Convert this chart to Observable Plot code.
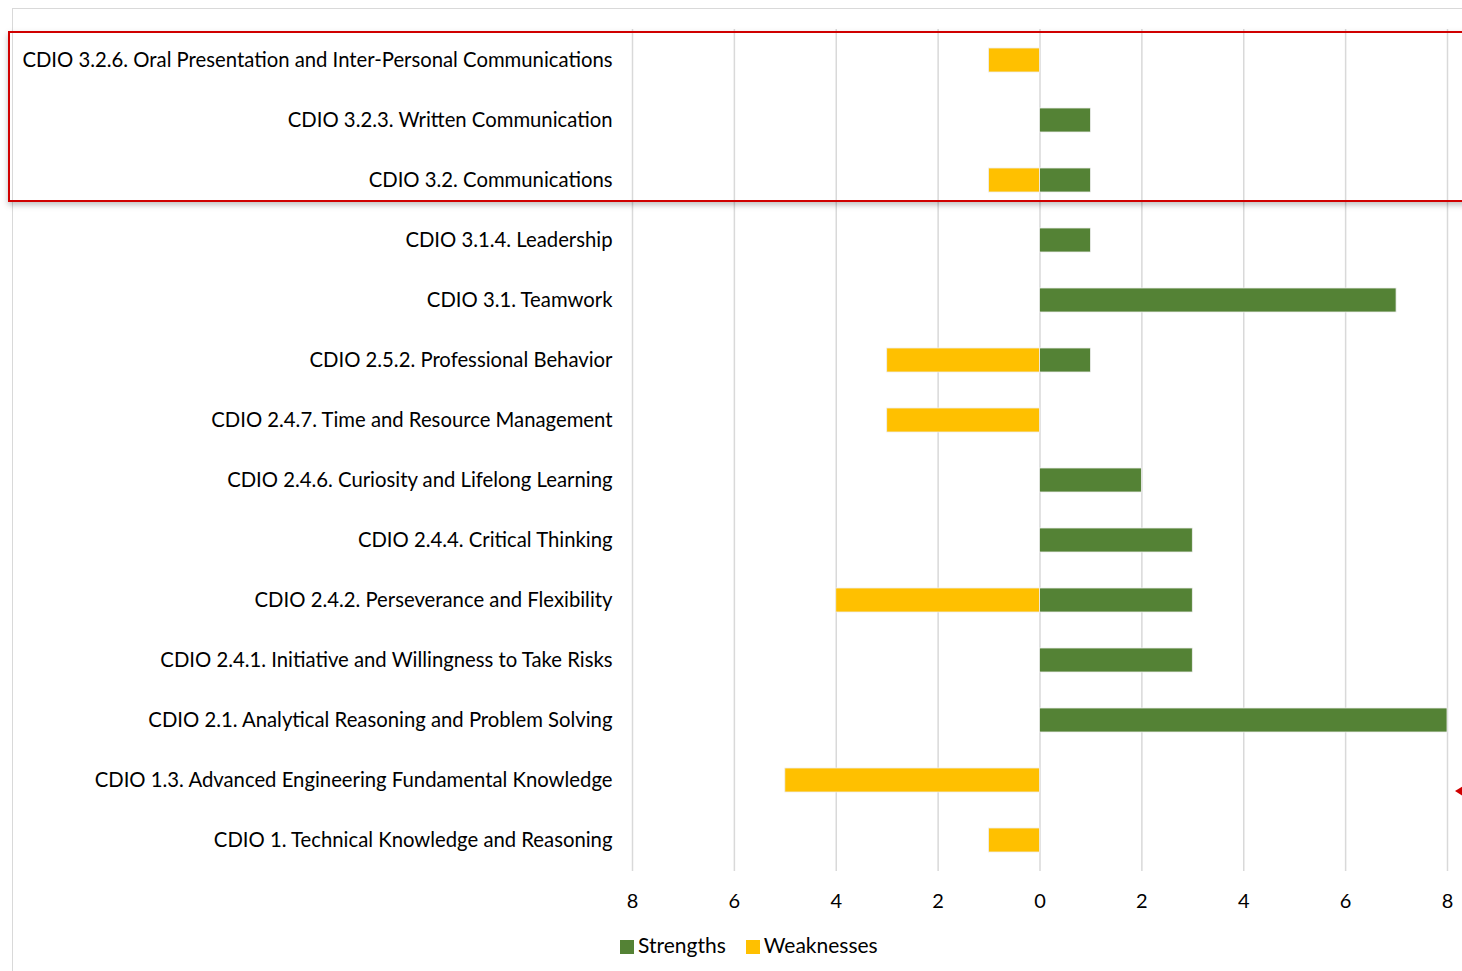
<!DOCTYPE html>
<html><head><meta charset="utf-8">
<script src="https://cdn.jsdelivr.net/npm/d3@7"></script>
<script src="https://cdn.jsdelivr.net/npm/@observablehq/plot@0.6"></script>
<style>
body{margin:0;background:#fff;font-family:Lato,"Open Sans",sans-serif;}
#wrap{position:relative;width:1462px;height:971px;overflow:hidden;}
#frame{position:absolute;left:12px;top:8px;width:1500px;height:1000px;border-left:1.5px solid #d9d9d9;border-top:1.5px solid #d9d9d9;}
#chart{position:absolute;left:0;top:0;}
#legend{position:absolute;top:932px;left:620px;font-size:21px;color:#000;display:flex;gap:20px;align-items:center;}
.sw{display:inline-block;width:14px;height:14px;margin-right:4px;vertical-align:-1px;}
#hl{position:absolute;left:8px;top:31px;width:1480px;height:167px;border:2px solid #d00000;box-shadow:0 3px 6px rgba(0,0,0,0.25);}
#arrow{position:absolute;left:1455px;top:786px;width:0;height:0;border-top:5px solid transparent;border-bottom:5px solid transparent;border-right:8px solid #d00000;}
</style></head>
<body><div id="wrap"><div id="frame"></div><div id="chart"></div>
<div id="legend"></div><div id="hl"></div><div id="arrow"></div></div>
<script>
const categories = [
 "CDIO 3.2.6. Oral Presentation and Inter-Personal Communications",
 "CDIO 3.2.3. Written Communication",
 "CDIO 3.2. Communications",
 "CDIO 3.1.4. Leadership",
 "CDIO 3.1. Teamwork",
 "CDIO 2.5.2. Professional Behavior",
 "CDIO 2.4.7. Time and Resource Management",
 "CDIO 2.4.6. Curiosity and Lifelong Learning",
 "CDIO 2.4.4. Critical Thinking",
 "CDIO 2.4.2. Perseverance and Flexibility",
 "CDIO 2.4.1. Initiative and Willingness to Take Risks",
 "CDIO 2.1. Analytical Reasoning and Problem Solving",
 "CDIO 1.3. Advanced Engineering Fundamental Knowledge",
 "CDIO 1. Technical Knowledge and Reasoning"
];
const strengths  = [0,1,1,1,7,1,0,2,3,3,3,8,0,0];
const weaknesses = [1,0,1,0,0,3,3,0,0,4,0,0,5,1];
const xTicks = [-8,-6,-4,-2,0,2,4,6,8];
const seriesNames = ["Strengths","Weaknesses"];
const seriesColors = ["#548235","#FFC000"];

const rows = [];
categories.forEach((c,i)=>{
  if (strengths[i]) rows.push({cat:c, series:"Strengths", v:strengths[i]});
  if (weaknesses[i]) rows.push({cat:c, series:"Weaknesses", v:-weaknesses[i]});
});

const chart = Plot.plot({
  width:1462, height:925,
  marginLeft:632, marginRight:15, marginTop:29, marginBottom:54,
  style:{fontFamily:"Lato, 'Open Sans', sans-serif", fontSize:"20.3px", color:"#000", background:"transparent"},
  x:{domain:[-8,8], ticks:xTicks, tickFormat:d=>Math.abs(d), label:null},
  y:{domain:categories, paddingInner:0.6, paddingOuter:0.3, label:null},
  color:{domain:seriesNames, range:seriesColors},
  marks:[
    Plot.ruleX(xTicks,{stroke:"#d9d9d9", strokeWidth:1.5, strokeOpacity:1}),
    Plot.barX(rows,{y:"cat", x:"v", fill:"series", stroke:"#eeeeee", strokeWidth:0.8}),
    Plot.axisX({ticks:xTicks, tickFormat:d=>Math.abs(d), tickSize:0, tickPadding:22, label:null, fontSize:20}),
    Plot.axisY({tickSize:0, tickPadding:20, label:null, fontSize:20.3})
  ]
});
document.getElementById("chart").appendChild(chart);

const lg = document.getElementById("legend");
seriesNames.forEach((n,i)=>{
  const s=document.createElement("span");
  s.innerHTML=`<span class="sw" style="background:${seriesColors[i]}"></span>${n}`;
  lg.appendChild(s);
});
</script></body></html>
